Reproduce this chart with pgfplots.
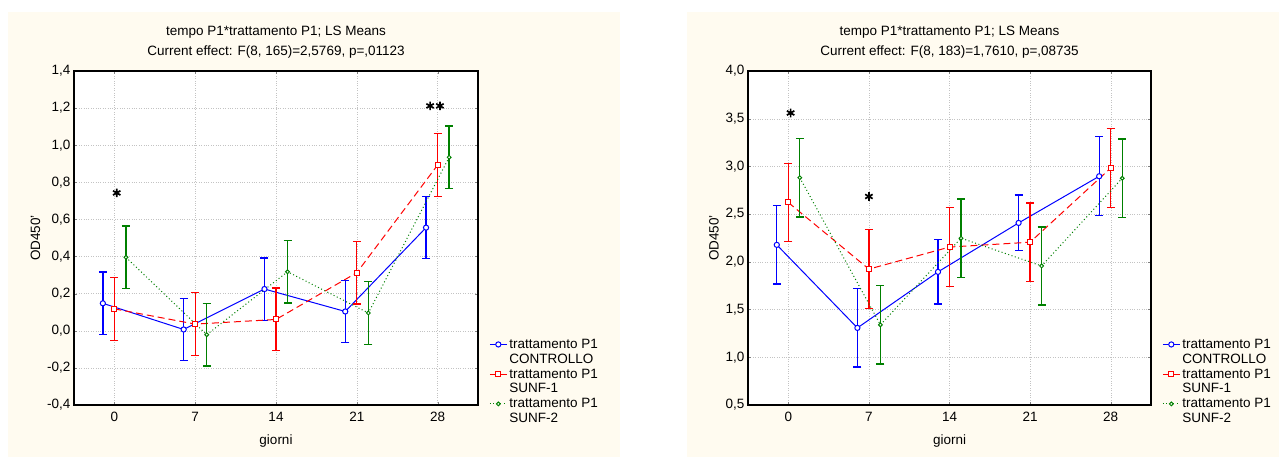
\documentclass[border=0pt]{standalone}
\usepackage{fontspec}
\setmainfont{Liberation Sans}
\usepackage{pgfplots}
\pgfplotsset{compat=1.18}

\definecolor{cream}{RGB}{255,251,240}
\definecolor{cblue}{RGB}{0,0,255}
\definecolor{cred}{RGB}{255,0,0}
\definecolor{cgreen}{RGB}{0,128,0}
\definecolor{gridgray}{RGB}{195,195,195}

\pgfplotsset{
  panel/.style={
    anchor=south west, scale only axis, width=404pt, height=334pt,
    xmin=-3.5, xmax=31.5, xtick={0,7,14,21,28},
    grid=major,
    grid style={gridgray, dotted},
    axis line style={line width=1.2pt},
    tick align=inside, major tick length=3pt,
    tick label style={font=\fontsize{13.5}{16}\selectfont},
    label style={font=\fontsize{13.5}{16}\selectfont},
    xticklabel style={yshift=-4pt},
    xlabel style={yshift=-6pt},
    /pgf/number format/assume math mode=true,
    yticklabel style={/pgf/number format/.cd, fixed, fixed zerofill, precision=1, use comma},
    title style={font=\fontsize{13.5}{20}\selectfont, align=center, yshift=3pt},
    xlabel={giorni}, ylabel={OD450'},
    legend style={draw=none, fill=none, font=\fontsize{13.5}{16}\selectfont,
      at={(1.02,0.21)}, anchor=north west},
    legend cell align=left,
  },
  ctrl/.style={cblue, line width=1pt, mark=*, mark size=2.6pt,
    mark options={solid, fill=white}},
  sunf1/.style={cred, line width=1pt, dash pattern=on 7pt off 4pt, mark=square*,
    mark size=2.5pt, mark options={solid, fill=white}},
  sunf2/.style={cgreen, line width=1pt, dash pattern=on 1pt off 2.5pt, mark=*,
    mark size=1.9pt, mark options={solid, fill=white}},
  star/.style={black, only marks, mark=asterisk, mark size=4.3pt, line width=1.7pt},
}

\begin{document}
\begin{tikzpicture}
\fill[white] (0pt,0pt) rectangle (1279pt,460pt);
\fill[cream] (8pt,3pt) rectangle (620pt,448pt);
\fill[cream] (687pt,3pt) rectangle (1279pt,448pt);
\fill[white] (74pt,55pt) rectangle (478pt,389pt);
\fill[white] (748pt,55pt) rectangle (1151pt,389pt);

% left panel
\begin{axis}[panel, at={(74pt,55pt)},
    title={tempo P1*trattamento P1; LS Means\\Current effect: F(8, 165)=2,5769, p=,01123},
    ymin=-0.4, ymax=1.4, ytick={-0.4,-0.2,0,0.2,0.4,0.6,0.8,1.0,1.2,1.4}]
\addplot[ctrl, error bars/.cd, y dir=both, y explicit,
    error bar style={solid, line width=1.3pt},
    error mark options={rotate=90, solid, line width=1.3pt, mark size=4pt, cblue}] coordinates {
  (-1,0.148) +- (0,0.168) (6,0.007) +- (0,0.168) (13,0.225) +- (0,0.168)
  (20,0.104) +- (0,0.168) (27,0.556) +- (0,0.168)};
\addlegendentry{trattamento P1}
\addlegendimage{empty legend}\addlegendentry{CONTROLLO}
\addplot[sunf1, error bars/.cd, y dir=both, y explicit,
    error bar style={solid, line width=1.3pt},
    error mark options={rotate=90, solid, line width=1.3pt, mark size=4pt, cred}] coordinates {
  (0,0.118) +- (0,0.169) (7,0.036) +- (0,0.169) (14,0.061) +- (0,0.169)
  (21,0.313) +- (0,0.169) (28,0.893) +- (0,0.169)};
\addlegendentry{trattamento P1}
\addlegendimage{empty legend}\addlegendentry{SUNF-1}
\addplot[sunf2, error bars/.cd, y dir=both, y explicit,
    error bar style={solid, line width=1.3pt},
    error mark options={rotate=90, solid, line width=1.3pt, mark size=4pt, cgreen}] coordinates {
  (1,0.396) +- (0,0.169) (8,-0.021) +- (0,0.169) (15,0.318) +- (0,0.169)
  (22,0.096) +- (0,0.169) (29,0.935) +- (0,0.169)};
\addlegendentry{trattamento P1}
\addlegendimage{empty legend}\addlegendentry{SUNF-2}
\addplot[star, forget plot] coordinates {(0.2,0.743) (27.35,1.212) (28.2,1.212)};
\end{axis}

% right panel
\begin{axis}[panel, at={(748pt,55pt)}, width=403pt,
    title={tempo P1*trattamento P1; LS Means\\Current effect: F(8, 183)=1,7610, p=,08735},
    ymin=0.5, ymax=4.0, ytick={0.5,1.0,1.5,2.0,2.5,3.0,3.5,4.0}]
\addplot[ctrl, error bars/.cd, y dir=both, y explicit,
    error bar style={solid, line width=1.3pt},
    error mark options={rotate=90, solid, line width=1.3pt, mark size=4pt, cblue}] coordinates {
  (-1,2.178) +- (0,0.411) (6,1.308) +- (0,0.410) (13,1.895) +- (0,0.337)
  (20,2.408) +- (0,0.291) (27,2.897) +- (0,0.413)};
\addlegendentry{trattamento P1}
\addlegendimage{empty legend}\addlegendentry{CONTROLLO}
\addplot[sunf1, error bars/.cd, y dir=both, y explicit,
    error bar style={solid, line width=1.3pt},
    error mark options={rotate=90, solid, line width=1.3pt, mark size=4pt, cred}] coordinates {
  (0,2.622) +- (0,0.411) (7,1.924) +- (0,0.413) (14,2.155) +- (0,0.411)
  (21,2.206) +- (0,0.411) (28,2.983) +- (0,0.411)};
\addlegendentry{trattamento P1}
\addlegendimage{empty legend}\addlegendentry{SUNF-1}
\addplot[sunf2, error bars/.cd, y dir=both, y explicit,
    error bar style={solid, line width=1.3pt},
    error mark options={rotate=90, solid, line width=1.3pt, mark size=4pt, cgreen}] coordinates {
  (1,2.882) +- (0,0.412) (8,1.340) +- (0,0.411) (15,2.248) +- (0,0.411)
  (22,1.957) +- (0,0.409) (29,2.876) +- (0,0.411)};
\addlegendentry{trattamento P1}
\addlegendimage{empty legend}\addlegendentry{SUNF-2}
\addplot[star, forget plot] coordinates {(0.2,3.56) (7,2.685)};
\end{axis}

\pgfresetboundingbox
\useasboundingbox (0pt,0pt) rectangle (1279pt,460pt);
\end{tikzpicture}
\end{document}
